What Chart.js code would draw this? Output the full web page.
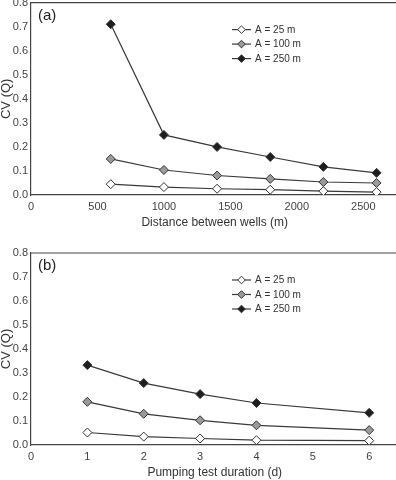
<!DOCTYPE html>
<html><head><meta charset="utf-8">
<script src="https://cdn.jsdelivr.net/npm/chart.js@4/dist/chart.umd.min.js"></script>
<style>
html,body{margin:0;padding:0;background:#fff;overflow:hidden;width:396px;height:480px;}
#wa{position:absolute;left:0;top:-4px;width:404px;height:234px;}
#wb{position:absolute;left:0;top:240px;width:404px;height:240px;}
</style></head><body>
<div id="wa"><canvas id="ca"></canvas></div>
<div id="wb"><canvas id="cb"></canvas></div>
<script>
const seriesLabels = ['A = 25 m', 'A = 100 m', 'A = 250 m'];
const distanceX = [600, 1000, 1400, 1800, 2200, 2600];
const distanceTicks = [0, 500, 1000, 1500, 2000, 2500];
const distA25 = [0.045, 0.033, 0.026, 0.022, 0.016, 0.012];
const distA100 = [0.15, 0.104, 0.081, 0.067, 0.054, 0.05];
const distA250 = [0.71, 0.25, 0.20, 0.158, 0.117, 0.092];
const durationX = [1, 2, 3, 4, 6];
const durationTicks = [0, 1, 2, 3, 4, 5, 6];
const durA25 = [0.052, 0.035, 0.027, 0.02, 0.018];
const durA100 = [0.18, 0.13, 0.103, 0.082, 0.062];
const durA250 = [0.333, 0.258, 0.212, 0.175, 0.134];
const yTicks = [0, 0.1, 0.2, 0.3, 0.4, 0.5, 0.6, 0.7, 0.8];

const FONT = "'Liberation Sans', Arial, sans-serif";
const markerFill = ['#ffffff', '#9a9a9a', '#1e1e1e'];

function makeSets(xs, ys) {
  return ys.map((arr, i) => ({
    label: seriesLabels[i],
    data: arr.map((v, j) => ({x: xs[j], y: v})),
    borderColor: '#3a3a3a',
    borderWidth: 1.2,
    pointStyle: 'rectRot',
    pointRadius: 4.5,
    pointBackgroundColor: markerFill[i],
    pointBorderColor: '#333',
    pointBorderWidth: 1,
    fill: false,
    tension: 0
  }));
}

const framePlugin = {
  id: 'frame',
  afterDraw(chart, args, opts) {
    const ctx = chart.ctx, a = chart.chartArea;
    ctx.save();
    ctx.strokeStyle = '#444';
    ctx.lineWidth = 1.2;
    ctx.beginPath();
    ctx.moveTo(a.left, a.top); ctx.lineTo(a.right, a.top); ctx.lineTo(a.right, a.bottom);
    ctx.stroke();
    ctx.fillStyle = '#222';
    ctx.font = '15px ' + FONT;
    ctx.textBaseline = 'middle';
    ctx.fillText(opts.tag, a.left + 7, a.top + 13);
    ctx.font = '10px ' + FONT;
    chart.data.datasets.forEach((ds, i) => {
      const y = a.top + opts.legTop + i * 14.5;
      const x0 = opts.legX;
      ctx.strokeStyle = '#3a3a3a';
      ctx.lineWidth = 1.2;
      ctx.beginPath(); ctx.moveTo(x0, y); ctx.lineTo(x0 + 19, y); ctx.stroke();
      const cx = x0 + 9.5, r = 3.8;
      ctx.beginPath();
      ctx.moveTo(cx, y - r); ctx.lineTo(cx + r, y); ctx.lineTo(cx, y + r); ctx.lineTo(cx - r, y); ctx.closePath();
      ctx.fillStyle = ds.pointBackgroundColor; ctx.fill();
      ctx.strokeStyle = '#333'; ctx.lineWidth = 1; ctx.stroke();
      ctx.fillStyle = '#333';
      ctx.fillText(ds.label, x0 + 23, y + 0.5);
    });
    ctx.restore();
  }
};

function makeChart(id, sets, xTitle, xMax, xTicks, padTop, xHeight, tag, legTop) {
  return new Chart(document.getElementById(id), {
    type: 'line',
    data: {datasets: sets},
    plugins: [framePlugin],
    options: {
      responsive: true,
      maintainAspectRatio: false,
      animation: false,
      layout: {padding: {top: padTop, right: 0, left: 0, bottom: 0}},
      plugins: {
        legend: {display: false},
        tooltip: {enabled: false},
        frame: {tag: tag, legX: 232, legTop: legTop}
      },
      scales: {
        x: {
          type: 'linear', min: 0, max: xMax,
          afterBuildTicks: (s) => { s.ticks = xTicks.map(v => ({value: v})); },
          grid: {display: false, drawOnChartArea: false, tickLength: 4, color: '#444'},
          border: {display: true, color: '#444', width: 1.2},
          ticks: {autoSkip: false, color: '#444', font: {family: FONT, size: 11}, padding: 1, maxRotation: 0,
            callback: (v) => String(v)},
          title: {display: true, text: xTitle, color: '#333', font: {family: FONT, size: 12}, padding: {top: 2, bottom: 0}},
          afterFit: (s) => { s.height = xHeight; }
        },
        y: {
          min: 0, max: 0.8,
          afterBuildTicks: (s) => { s.ticks = yTicks.map(v => ({value: v})); },
          grid: {display: false, drawOnChartArea: false, tickLength: 3, color: '#444'},
          border: {display: true, color: '#444', width: 1.2},
          ticks: {autoSkip: false, color: '#444', font: {family: FONT, size: 11}, padding: 0,
            callback: (v) => Number(v).toFixed(1)},
          title: {display: true, text: 'CV (Q)', color: '#333', font: {family: FONT, size: 13, lineHeight: 1}, padding: {top: 0, bottom: 0}},
          afterFit: (s) => { s.width = 31; }
        }
      }
    }
  });
}

makeChart('ca', makeSets(distanceX, [distA25, distA100, distA250]), 'Distance between wells (m)', 2765, distanceTicks, 3, 35, '(a)', 27);
makeChart('cb', makeSets(durationX, [durA25, durA100, durA250]), 'Pumping test duration (d)', 6.52, durationTicks, 13, 35, '(b)', 27);
</script>
</body></html>
